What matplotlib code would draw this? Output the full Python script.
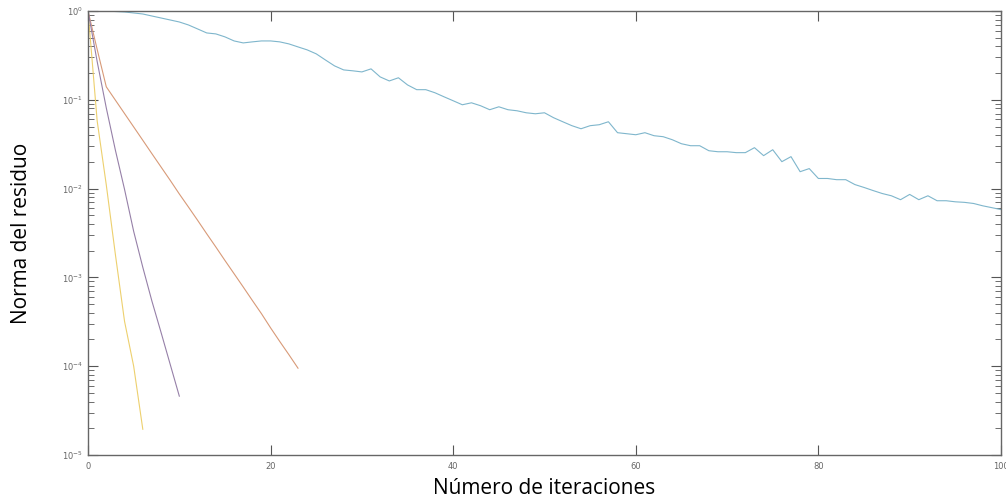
import numpy as np
import matplotlib
matplotlib.use("Agg")
import matplotlib.pyplot as plt
from matplotlib.ticker import LogLocator, FixedLocator

# residual norm per iteration
blue_res = [1.0, 1.0, 1.0, 0.987, 0.975, 0.950, 0.925, 0.878, 0.834, 0.792,
            0.752, 0.696, 0.628, 0.566, 0.552, 0.511, 0.460, 0.437, 0.449, 0.460,
            0.460, 0.449, 0.426, 0.394, 0.365, 0.329, 0.281, 0.241, 0.217, 0.212,
            0.206, 0.223, 0.181, 0.163, 0.177, 0.147, 0.130, 0.130, 0.120, 0.108,
            0.0975, 0.0879, 0.0925, 0.0857, 0.0773, 0.0834, 0.0773, 0.0752, 0.0714, 0.0696,
            0.0714, 0.0628, 0.0566, 0.0511, 0.0472, 0.0511, 0.0524, 0.0566, 0.0426, 0.0415,
            0.0404, 0.0426, 0.0394, 0.0384, 0.0355, 0.0320, 0.0304, 0.0304, 0.0267, 0.0260,
            0.0260, 0.0254, 0.0254, 0.0289, 0.0235, 0.0274, 0.0201, 0.0229, 0.0155, 0.0168,
            0.0130, 0.0130, 0.0126, 0.0126, 0.0111, 0.0103, 0.0095, 0.0088, 0.0083, 0.0075,
            0.0086, 0.0075, 0.0083, 0.0073, 0.0073, 0.0071, 0.0070, 0.0068, 0.0064, 0.0061,
            0.0058]
red_res = [1.0, 0.37, 0.14, 0.099, 0.070, 0.0495, 0.035, 0.0247, 0.0175, 0.0124,
           0.0087, 0.0062, 0.0044, 0.0031, 0.0022, 0.00155, 0.0011, 0.00078, 0.00055, 0.00039,
           0.00027, 0.00019, 0.000135, 0.000095]
yellow_res = [1.0, 0.058, 0.011, 0.0018, 0.00032, 0.0001, 0.0000195]
purple_res = [1.0, 0.27, 0.081, 0.027, 0.0098, 0.0033, 0.0013, 0.00054, 0.00024, 0.000105, 0.000046]

x_ticks = [0, 20, 40, 60, 80, 100]

fig = plt.figure(figsize=(10.06, 5.04), dpi=100)
ax = fig.add_axes([0.0875, 0.0972, 0.9075, 0.881])

# faded MATLAB-like colours, as in the (washed out) reference
ax.semilogy(range(len(blue_res)), blue_res, color="#7fb6cc", lw=0.8)
ax.semilogy(range(len(red_res)), red_res, color="#d89a78", lw=0.8)
ax.semilogy(range(len(yellow_res)), yellow_res, color="#edd06e", lw=0.8)
ax.semilogy(range(len(purple_res)), purple_res, color="#9680a8", lw=0.8)

ax.set_xlim(0, 100)
ax.set_ylim(1e-5, 1)
ax.xaxis.set_major_locator(FixedLocator(x_ticks))
ax.yaxis.set_major_locator(LogLocator(base=10, numticks=10))
ax.yaxis.set_minor_locator(LogLocator(base=10, subs=np.arange(2, 10), numticks=10))

for s in ax.spines.values():
    s.set_color("#666666")
    s.set_linewidth(1.0)
ax.tick_params(which="both", direction="in", top=True, right=True, colors="#555555",
               labelsize=6, labelcolor="#666666")
ax.tick_params(which="major", length=7, width=0.8)
ax.tick_params(which="minor", length=4, width=0.6)
ax.tick_params(axis="x", pad=5)

ax.set_xlabel("Número de iteraciones", fontsize=15, family="Open Sans", labelpad=5)
ax.set_ylabel("Norma del residuo", fontsize=15, family="Open Sans", labelpad=22)

fig.savefig("out.png", dpi=100)
